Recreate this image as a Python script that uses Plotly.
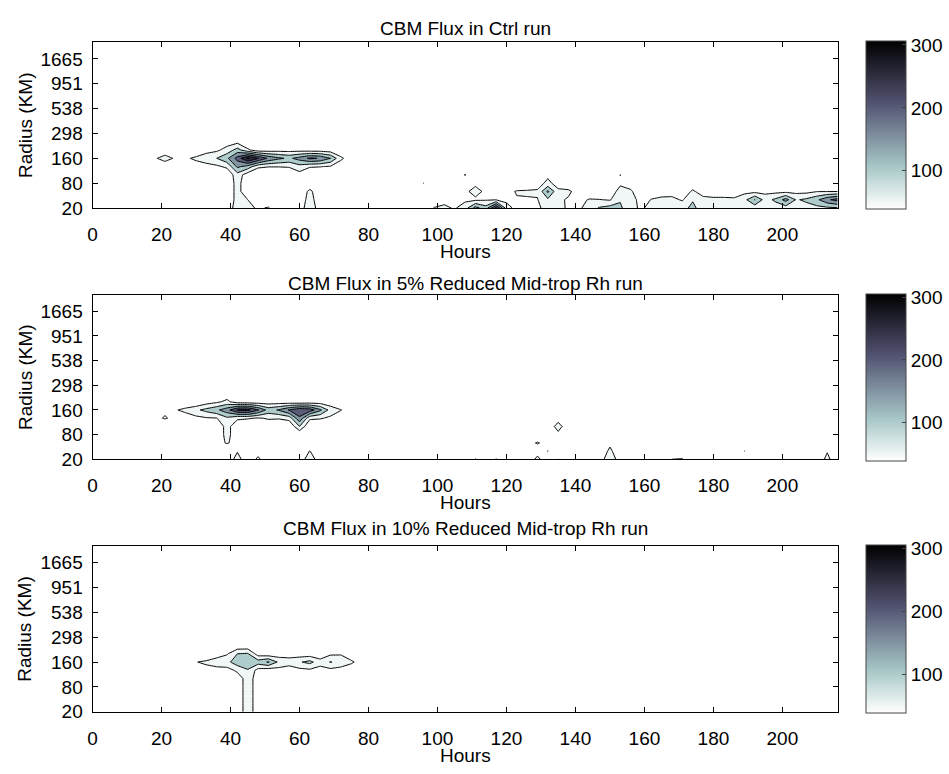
import numpy as np
import plotly.graph_objects as go

# ---- grid and axis data -------------------------------------------------
HOURS = list(range(0, 217, 3))                 # 3-hourly output, 0..216 h
N_RADIUS = 21                                  # radial rows (stretched grid)
RADIUS_TICK_ROWS = [0, 3, 6, 9, 12, 15, 18]
RADIUS_TICK_LABELS = ["20", "80", "160", "298", "538", "951", "1665"]
HOUR_TICKS = list(range(0, 201, 20))

LEVEL_START, LEVEL_END, LEVEL_STEP = 50, 300, 50
CBAR_MIN, CBAR_MAX = 39, 306
CBAR_TICKS = [100, 200, 300]

# CBM flux, {radial row: {hour: value}}; unlisted points are zero
CTRL_FLUX = {
    0: {39: 20, 42: 75, 45: 70, 48: 40, 51: 56, 60: 30, 63: 75, 66: 30,
        96: 20, 99: 52, 102: 60, 105: 45, 108: 75, 111: 170, 114: 120, 117: 270,
        120: 75, 123: 30, 126: 20, 129: 40, 132: 70, 135: 60, 138: 45, 141: 40,
        144: 75, 147: 105, 150: 120, 153: 110, 156: 60, 159: 45, 162: 60, 165: 65,
        168: 60, 171: 80, 174: 115, 177: 70, 180: 65, 183: 65, 186: 62, 189: 65,
        192: 70, 195: 70, 198: 72, 201: 75, 204: 72, 207: 80, 210: 85, 213: 90,
        216: 95},
    1: {39: 10, 42: 70, 45: 50, 48: 15, 60: 20, 63: 70, 66: 20,
        99: 20, 102: 35, 105: 30, 108: 40, 111: 40, 114: 45, 117: 48, 120: 35,
        123: 45, 126: 45, 129: 48, 132: 90, 135: 58, 138: 45, 141: 30, 144: 55,
        147: 52, 150: 45, 153: 95, 156: 75, 159: 30, 162: 52, 165: 60, 168: 62,
        171: 45, 174: 95, 177: 60, 180: 58, 183: 58, 186: 56, 189: 85, 192: 152,
        195: 80, 198: 110, 201: 170, 204: 95, 207: 110, 210: 140, 213: 190,
        216: 220},
    2: {39: 10, 42: 70, 45: 10, 60: 20, 63: 60, 66: 20, 108: 38, 111: 70, 114: 38,
        120: 30, 123: 55, 126: 58, 129: 56, 132: 160, 135: 60, 138: 58, 141: 30,
        150: 20, 153: 70, 156: 60, 159: 5, 162: 25, 165: 30, 168: 30, 171: 30,
        174: 55, 177: 35, 180: 30, 183: 30, 186: 30, 189: 35, 192: 35, 195: 35,
        198: 35, 201: 35, 204: 35, 207: 35, 210: 48, 213: 48, 216: 48},
    3: {39: 10, 42: 70, 45: 10, 63: 20, 96: 51, 111: 37, 129: 30, 132: 62,
        135: 30, 138: 20, 153: 40, 156: 20, 174: 30},
    4: {39: 10, 42: 80, 45: 20, 60: 30, 108: 54, 132: 40, 153: 51},
    5: {21: 40, 30: 20, 33: 30, 36: 40, 39: 60, 42: 160, 45: 130, 48: 60, 51: 52,
        54: 52, 57: 55, 60: 80, 63: 55, 66: 52, 69: 45, 72: 20},
    6: {18: 48, 21: 56, 24: 48, 27: 40, 30: 62, 33: 80, 36: 100, 39: 140, 42: 220,
        45: 310, 48: 255, 51: 190, 54: 160, 57: 140, 60: 170, 63: 210, 66: 195,
        69: 150, 72: 60, 75: 20},
    7: {21: 40, 33: 30, 36: 40, 39: 70, 42: 120, 45: 60, 48: 20, 51: 25, 54: 30,
        57: 30, 60: 30, 63: 25, 66: 25, 69: 20, 72: 10},
    8: {39: 25, 42: 35},
}

RH5_FLUX = {
    0: {42: 80, 48: 65, 60: 20, 63: 80, 66: 20, 111: 53, 117: 54, 129: 70,
        135: 52, 147: 20, 150: 90, 153: 20, 168: 51, 171: 55, 213: 70},
    1: {42: 45, 48: 20, 63: 52, 129: 20, 132: 51, 150: 65, 189: 51, 213: 45},
    2: {36: 30, 39: 55, 42: 30, 63: 10, 126: 30, 129: 55, 132: 30, 150: 35},
    3: {36: 30, 39: 60, 42: 30, 135: 46},
    4: {36: 30, 39: 60, 42: 30, 51: 20, 60: 100, 132: 40, 135: 56, 138: 40},
    5: {18: 35, 21: 55, 24: 35, 27: 20, 30: 35, 33: 45, 36: 48, 39: 90, 42: 55,
        45: 55, 48: 45, 51: 55, 54: 55, 57: 70, 60: 190, 63: 60, 66: 55, 69: 40,
        72: 20, 135: 44},
    6: {21: 40, 24: 45, 27: 65, 30: 90, 33: 115, 36: 140, 39: 180, 42: 255,
        45: 265, 48: 205, 51: 130, 54: 155, 57: 205, 60: 240, 63: 230, 66: 160,
        69: 80, 72: 52, 75: 20},
    7: {33: 25, 36: 40, 39: 62, 42: 20, 45: 15, 48: 15, 51: 20, 54: 20, 57: 15,
        60: 10, 63: 15, 66: 20, 69: 15},
    8: {39: 20},
}

RH10_FLUX = {
    0: {42: 21, 45: 75, 48: 25},
    1: {42: 21, 45: 75, 48: 25},
    2: {42: 21, 45: 75, 48: 25},
    3: {42: 21, 45: 75, 48: 25},
    4: {42: 21, 45: 75, 48: 25},
    5: {30: 20, 33: 30, 36: 35, 39: 30, 42: 60, 45: 95, 48: 30, 51: 20, 54: 30,
        57: 20, 60: 35, 63: 40, 66: 30, 69: 35, 72: 30, 75: 20},
    6: {27: 30, 30: 48, 33: 60, 36: 70, 39: 85, 42: 130, 45: 140, 48: 125,
        51: 155, 54: 90, 57: 75, 60: 95, 63: 115, 66: 70, 69: 103, 72: 80,
        75: 58, 78: 30},
    7: {36: 30, 39: 45, 42: 100, 45: 105, 48: 25, 51: 15, 54: 20, 57: 25,
        60: 20, 63: 20, 66: 15, 69: 40, 72: 45, 75: 20},
    8: {42: 10, 45: 10},
}

RUNS = [CTRL_FLUX, RH5_FLUX, RH10_FLUX]
RUN_TITLES = [
    "CBM Flux in Ctrl run",
    "CBM Flux in 5% Reduced Mid-trop Rh run",
    "CBM Flux in 10% Reduced Mid-trop Rh run",
]

# ---- styling helpers ------------------------------------------------------
W, H = 949, 774
FONT = "Liberation Sans, Arial, Helvetica, sans-serif"
FS = 19
PLOT_LEFT, PLOT_RIGHT = 88, 837
PANELS_PX = [(43, 211), (299, 466), (554, 722)]   # (top, bottom)
TITLE_Y_PX = [29, 288, 536]
CBAR_LEFT, CBAR_THICK = 866, 40


def bone(s):
    """MATLAB/matplotlib 'bone' colormap at s in [0, 1]."""
    s = min(max(s, 0.0), 1.0)
    if s < 0.746032:
        r = 0.652778 * s / 0.746032
    else:
        r = 0.652778 + (s - 0.746032) * (1 - 0.652778) / (1 - 0.746032)
    if s < 0.365079:
        g = 0.319444 * s / 0.365079
    elif s < 0.746032:
        g = 0.319444 + (s - 0.365079) * (0.777778 - 0.319444) / (0.746032 - 0.365079)
    else:
        g = 0.777778 + (s - 0.746032) * (1 - 0.777778) / (1 - 0.746032)
    if s < 0.365079:
        b = 0.444444 * s / 0.365079
    else:
        b = 0.444444 + (s - 0.365079) * (1 - 0.444444) / (1 - 0.365079)
    return "rgb(%d,%d,%d)" % (round(r * 255), round(g * 255), round(b * 255))


def flux_color(v):
    """Reversed bone mapped over the colour limits."""
    return bone(1 - (v - CBAR_MIN) / (CBAR_MAX - CBAR_MIN))


levels = list(range(LEVEL_START, LEVEL_END + 1, LEVEL_STEP))
nb = len(levels)
# band k (k=0: below first level) -> colour of its lower level, as in contourf
band_scale = [[0.0, "rgb(255,255,255)"]]
for k, lv in enumerate(levels, start=1):
    band_scale.append([k / nb, flux_color(lv)])

cont_scale = [[i / 20, bone(1 - i / 20)] for i in range(21)]


def build_grid(run):
    z = np.zeros((N_RADIUS, len(HOURS)))
    for row, vals in run.items():
        for hr, v in vals.items():
            z[row, HOURS.index(hr)] = v
    return z


def py(px):
    return 1 - px / H


def px_x(px):
    return px / W


fig = go.Figure()
annotations = []
for i, (run, title, (top, bot), ty) in enumerate(
        zip(RUNS, RUN_TITLES, PANELS_PX, TITLE_Y_PX), start=1):
    xa, ya = ("x%d" % i if i > 1 else "x"), ("y%d" % i if i > 1 else "y")
    fig.add_trace(go.Contour(
        x=HOURS, y=list(range(N_RADIUS)), z=build_grid(run),
        contours=dict(start=LEVEL_START, end=LEVEL_END, size=LEVEL_STEP,
                      coloring="fill", showlines=True),
        colorscale=band_scale, showscale=False,
        line=dict(color="black", width=1, smoothing=0),
        hoverinfo="skip", xaxis=xa, yaxis=ya,
    ))
    # continuous colour bar
    fig.add_trace(go.Scatter(
        x=[-100], y=[-100], mode="markers", xaxis=xa, yaxis=ya,
        hoverinfo="skip", showlegend=False,
        marker=dict(size=1, color=[CBAR_MIN], cmin=CBAR_MIN, cmax=CBAR_MAX,
                    colorscale=cont_scale, showscale=True,
                    colorbar=dict(
                        x=px_x(CBAR_LEFT), xanchor="left", xpad=0,
                        y=py((top + bot) / 2), yanchor="middle", ypad=0,
                        len=bot - top, lenmode="pixels",
                        thickness=CBAR_THICK, thicknessmode="pixels",
                        outlinewidth=1, outlinecolor="#444",
                        tickvals=CBAR_TICKS, ticks="inside", ticklen=4,
                        tickcolor="#444",
                        tickfont=dict(family=FONT, size=FS, color="black"))),
    ))
    axis_common = dict(showline=True, linecolor="black", linewidth=1,
                       mirror="ticks", ticks="inside", ticklen=5,
                       tickcolor="black", showgrid=False, zeroline=False,
                       tickfont=dict(family=FONT, size=FS, color="black"))
    fig.layout["xaxis%d" % i if i > 1 else "xaxis"] = dict(
        domain=[px_x(PLOT_LEFT), px_x(PLOT_RIGHT)], range=[0, 216],
        tickvals=HOUR_TICKS, anchor=ya, ticklabelstandoff=9, **axis_common)
    fig.layout["yaxis%d" % i if i > 1 else "yaxis"] = dict(
        domain=[py(bot), py(top)], range=[0, N_RADIUS - 1],
        tickvals=RADIUS_TICK_ROWS, ticktext=RADIUS_TICK_LABELS,
        anchor=xa, ticklabelstandoff=5, **axis_common)

    cx = px_x((PLOT_LEFT + PLOT_RIGHT) / 2)
    annotations.append(dict(text=title, x=cx, y=py(ty), xref="paper",
                            yref="paper", showarrow=False, xanchor="center",
                            yanchor="middle",
                            font=dict(family=FONT, size=FS, color="black")))
    annotations.append(dict(text="Hours", x=cx, y=py(bot + 44), xref="paper",
                            yref="paper", showarrow=False, xanchor="center",
                            yanchor="middle",
                            font=dict(family=FONT, size=FS, color="black")))
    annotations.append(dict(text="Radius (KM)", x=px_x(20), y=py((top + bot) / 2),
                            xref="paper", yref="paper", showarrow=False,
                            textangle=-90, xanchor="center", yanchor="middle",
                            font=dict(family=FONT, size=FS, color="black")))

fig.update_layout(
    width=W, height=H, margin=dict(l=0, r=0, t=0, b=0),
    paper_bgcolor="white", plot_bgcolor="white",
    annotations=annotations, showlegend=False,
)

fig.write_html("out.html")
